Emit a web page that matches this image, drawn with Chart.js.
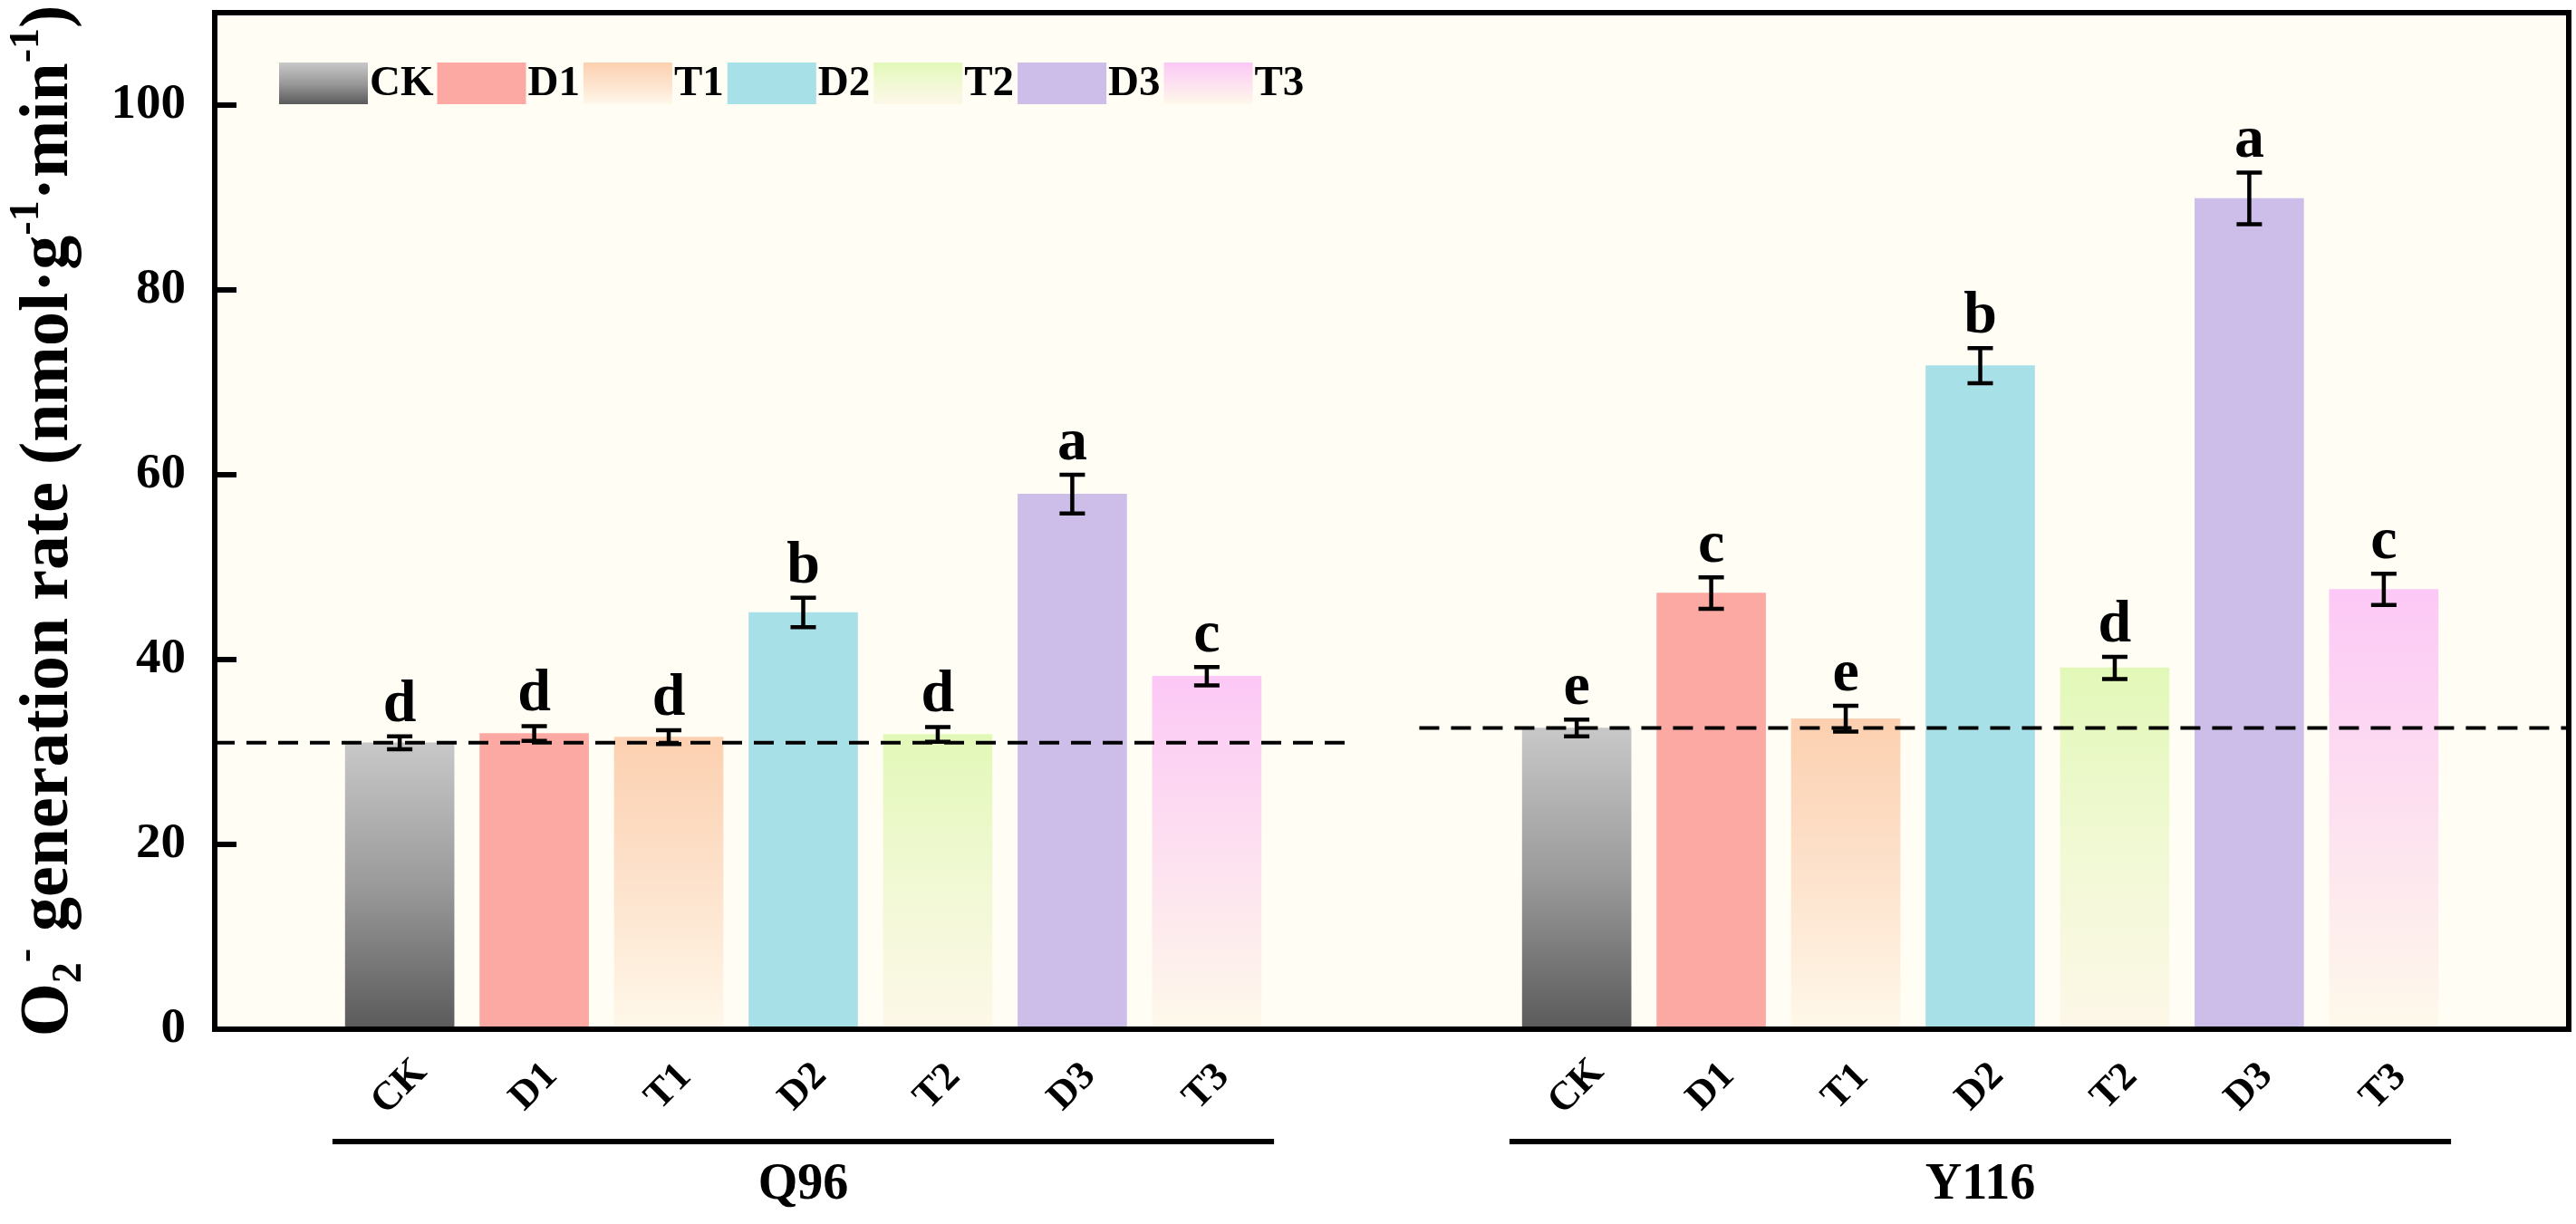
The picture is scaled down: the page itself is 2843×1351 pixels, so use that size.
<!DOCTYPE html>
<html><head><meta charset="utf-8">
<script src="https://cdn.jsdelivr.net/npm/chart.js@4.4.1/dist/chart.umd.min.js"></script>
<style>html,body{margin:0;padding:0;background:#fff;} canvas{display:block}</style>
</head><body>
<canvas id="c" width="2843" height="1351" style="width:2843px;height:1351px"></canvas>
<script>
// ---------------- data ----------------
const treatments = ['CK', 'D1', 'T1', 'D2', 'T2', 'D3', 'T3'];
const groups = ['Q96', 'Y116'];
const q96Mean = [31.0, 32.0, 31.6, 45.1, 31.9, 57.9, 38.2];
const q96Err  = [0.7, 0.8, 0.75, 1.6, 0.8, 2.1, 1.0];
const q96Letters = ['d', 'd', 'd', 'b', 'd', 'a', 'c'];
const y116Mean = [32.6, 47.2, 33.6, 71.8, 39.1, 89.9, 47.6];
const y116Err  = [0.9, 1.7, 1.4, 1.9, 1.2, 2.8, 1.7];
const y116Letters = ['e', 'c', 'e', 'b', 'd', 'a', 'c'];
const yTicks = [0, 20, 40, 60, 80, 100];
const yMax = 110;

// ---------------- layout / style ----------------
const GROUP_STRIDE = 8.75;      // category units between group starts
const X_MIN = -1.375, X_MAX = 16.125;
const FONT = "'Liberation Serif', 'Times New Roman', serif";
const fills = [
  ['#c8c8c8', '#9a9a9a', '#5a5a5a'],
  '#fba9a2',
  ['#fcd0b0', '#fde2cc', '#fff8ea'],
  '#a8e0e8',
  ['#e2f8b8', '#f1f9d4', '#fdf7e8'],
  '#cdbde9',
  ['#fcc8f6', '#fde0f0', '#fef9ea']
];
const means = [q96Mean, y116Mean];
const errs = [q96Err, y116Err];
const letters = [q96Letters, y116Letters];

function makeFill(ctx2d, st, top, bot) {
  if (typeof st === 'string') return st;
  const g = ctx2d.createLinearGradient(0, top, 0, bot);
  st.forEach((c, k) => g.addColorStop(k / (st.length - 1), c));
  return g;
}

const datasets = treatments.map((t, i) => ({
  label: t,
  data: groups.map((g, gi) => ({ x: gi * GROUP_STRIDE + i, y: means[gi][i] })),
  grouped: false,
  barThickness: 120,
  borderWidth: 0,
  backgroundColor: (ctx) => {
    const st = fills[i];
    if (typeof st === 'string') return st;
    const chart = ctx.chart, ys = chart.scales.y;
    if (ctx.type !== 'data' || !ys || !chart.chartArea || !ctx.parsed) return st[0];
    return makeFill(chart.ctx, st, ys.getPixelForValue(ctx.parsed.y), ys.getPixelForValue(0));
  }
}));

const decor = {
  id: 'decor',
  beforeDraw(chart) {
    const { ctx, chartArea: a } = chart;
    ctx.save();
    ctx.fillStyle = '#fffdf4';
    ctx.fillRect(a.left, a.top, a.right - a.left, a.bottom - a.top);
    ctx.restore();
  },
  afterDatasetsDraw(chart) {
    const { ctx, chartArea: a, scales: { x, y } } = chart;
    ctx.save();
    // control dashed lines
    const spans = [[X_MIN, 6 + 1.1], [GROUP_STRIDE - 1.17, X_MAX]];
    ctx.strokeStyle = '#000'; ctx.lineWidth = 4; ctx.setLineDash([22, 13]);
    groups.forEach((g, gi) => {
      const yy = y.getPixelForValue(means[gi][0]);
      ctx.beginPath();
      ctx.moveTo(x.getPixelForValue(spans[gi][0]), yy);
      ctx.lineTo(x.getPixelForValue(spans[gi][1]), yy);
      ctx.stroke();
    });
    ctx.setLineDash([]);
    // error bars + letters
    ctx.lineWidth = 4.5;
    ctx.fillStyle = '#000';
    ctx.font = `bold 66px ${FONT}`;
    ctx.textAlign = 'center'; ctx.textBaseline = 'alphabetic';
    treatments.forEach((t, i) => {
      groups.forEach((g, gi) => {
        const cx = x.getPixelForValue(gi * GROUP_STRIDE + i);
        const m = means[gi][i], e = errs[gi][i];
        const yt = y.getPixelForValue(m + e), yb = y.getPixelForValue(m - e);
        ctx.beginPath();
        ctx.moveTo(cx, yt); ctx.lineTo(cx, yb);
        ctx.moveTo(cx - 14, yt); ctx.lineTo(cx + 14, yt);
        ctx.moveTo(cx - 14, yb); ctx.lineTo(cx + 14, yb);
        ctx.stroke();
        ctx.fillText(letters[gi][i], cx, yt - 17);
      });
    });
    // frame
    ctx.lineWidth = 6;
    ctx.strokeRect(a.left, a.top, a.right - a.left, a.bottom - a.top);
    // inward y ticks
    yTicks.forEach(v => {
      const yy = y.getPixelForValue(v);
      ctx.beginPath(); ctx.moveTo(a.left, yy); ctx.lineTo(a.left + 24, yy); ctx.stroke();
    });
    // x category labels (rotated)
    ctx.font = `bold 44px ${FONT}`;
    ctx.textAlign = 'center'; ctx.textBaseline = 'middle';
    groups.forEach((g, gi) => {
      treatments.forEach((t, i) => {
        const cx = x.getPixelForValue(gi * GROUP_STRIDE + i);
        ctx.save(); ctx.translate(cx, a.bottom + 64); ctx.rotate(-Math.PI / 4);
        ctx.fillText(t, 0, 0); ctx.restore();
      });
      // group underline and label
      const x0 = x.getPixelForValue(gi * GROUP_STRIDE - 0.5);
      const x1 = x.getPixelForValue(gi * GROUP_STRIDE + treatments.length - 0.5);
      ctx.lineWidth = 6;
      ctx.beginPath(); ctx.moveTo(x0, a.bottom + 124); ctx.lineTo(x1, a.bottom + 124); ctx.stroke();
      ctx.font = `bold 56px ${FONT}`;
      ctx.fillText(g, x.getPixelForValue(gi * GROUP_STRIDE + 3), a.bottom + 173);
      ctx.font = `bold 44px ${FONT}`;
    });
    // legend
    let lx = a.left + 71;
    const ly = a.top + 55, lh = 46, lw = 98;
    ctx.font = `bold 47px ${FONT}`;
    ctx.textAlign = 'left'; ctx.textBaseline = 'middle';
    treatments.forEach((t, i) => {
      ctx.fillStyle = makeFill(ctx, fills[i], ly, ly + lh);
      ctx.fillRect(lx, ly, lw, lh);
      ctx.fillStyle = '#000';
      ctx.fillText(t, lx + lw + 2, ly + lh / 2 + 1);
      lx += lw + 2 + ctx.measureText(t).width + 4;
    });
    // y title
    const segs = [
      ['O', 'n'], ['2', 'sub'], ['-', 'sup'], [' generation rate (nmol\u00b7g', 'n'], ['-1', 'sup'],
      ['\u00b7min', 'n'], ['-1', 'sup'], [')', 'n']
    ];
    const fN = `bold 76px ${FONT}`, fS = `bold 46px ${FONT}`;
    let total = 0;
    segs.forEach(s => { ctx.font = s[1] === 'n' ? fN : fS; total += ctx.measureText(s[0]).width; });
    ctx.save();
    ctx.translate(74, (a.top + a.bottom) / 2);
    ctx.rotate(-Math.PI / 2);
    ctx.textAlign = 'left'; ctx.textBaseline = 'alphabetic';
    let tx = -total / 2;
    segs.forEach(s => {
      ctx.font = s[1] === 'n' ? fN : fS;
      const dy = s[1] === 'sub' ? 15 : (s[1] === 'sup' ? -32 : 0);
      ctx.fillText(s[0], tx, dy);
      tx += ctx.measureText(s[0]).width;
    });
    ctx.restore();
    ctx.restore();
  }
};

new Chart(document.getElementById('c'), {
  type: 'bar',
  data: { datasets },
  options: {
    responsive: false,
    animation: false,
    devicePixelRatio: 1,
    layout: { padding: { left: 0, top: 14, right: 8, bottom: 215 } },
    plugins: { legend: { display: false }, tooltip: { enabled: false } },
    scales: {
      x: { type: 'linear', min: X_MIN, max: X_MAX, display: false, offset: false },
      y: {
        min: 0, max: yMax,
        afterBuildTicks: s => { s.ticks = yTicks.map(v => ({ value: v })); },
        afterFit: s => { s.width = 237; s.paddingTop = 0; s.paddingBottom = 0; },
        grid: { display: false, drawTicks: false },
        border: { display: false },
        ticks: { color: '#000', padding: 32, font: { family: FONT, weight: 'bold', size: 55 } }
      }
    }
  },
  plugins: [decor]
});
</script>
</body></html>
